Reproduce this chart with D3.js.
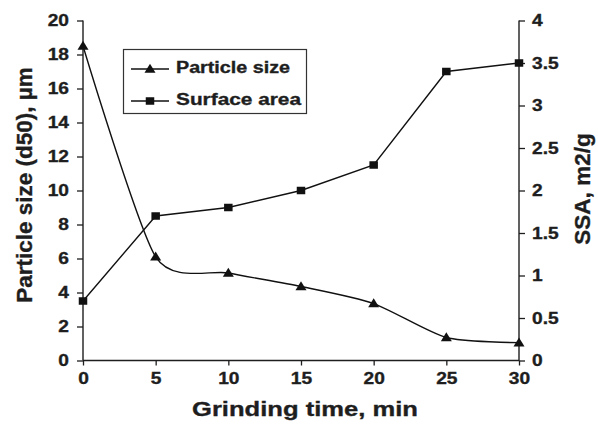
<!DOCTYPE html>
<html><head><meta charset="utf-8">
<script src="https://cdn.jsdelivr.net/npm/d3@7"></script>
<style>body{margin:0;background:#fff}svg{display:block}text{font-family:"Liberation Sans",Arial,sans-serif;font-weight:bold;fill:#1e1e1e;stroke:#1e1e1e;stroke-width:0.35px}</style>
</head><body><svg id="c" width="598" height="424"></svg>
<script>
const times = [0, 5, 10, 15, 20, 25, 30];
const particleSize = [18.5, 6.1, 5.15, 4.35, 3.35, 1.35, 1.05];
const surfaceArea = [0.7, 1.7, 1.8, 2.0, 2.3, 3.4, 3.5];
const xTicks = [0, 5, 10, 15, 20, 25, 30];
const leftTicks = [0, 2, 4, 6, 8, 10, 12, 14, 16, 18, 20];
const rightTicks = [0, 0.5, 1, 1.5, 2, 2.5, 3, 3.5, 4];
const seriesNames = ["Particle size", "Surface area"];

const svg = d3.select("#c");
const L = 83, R = 519, T = 20.5, B = 360.5;
const x = d3.scaleLinear().domain([0, 30]).range([L, R]);
const yL = d3.scaleLinear().domain([0, 20]).range([B, T]);
const yR = d3.scaleLinear().domain([0, 4]).range([B, T]);

function stretch(sel, k) {
  sel.each(function () {
    const w = this.getComputedTextLength();
    d3.select(this).attr("textLength", w * k).attr("lengthAdjust", "spacingAndGlyphs");
  });
}

const ax = svg.append("g").attr("transform", `translate(0,${B})`)
  .call(d3.axisBottom(x).tickValues(xTicks).tickSize(5).tickPadding(7).tickFormat(d3.format("d")));
const al = svg.append("g").attr("transform", `translate(${L},0)`)
  .call(d3.axisLeft(yL).tickValues(leftTicks).tickSize(6).tickPadding(8).tickFormat(d3.format("d")));
const ar = svg.append("g").attr("transform", `translate(${R},0)`)
  .call(d3.axisRight(yR).tickValues(rightTicks).tickSize(6).tickPadding(7).tickFormat(d => d));
[ax, al, ar].forEach(g => {
  g.select(".domain").attr("stroke", "#1e1e1e").attr("stroke-width", 1.4);
  g.selectAll(".tick line").attr("stroke", "#1e1e1e").attr("stroke-width", 1.3);
  g.selectAll("text").style("font-size", "16.5px").attr("fill", "#1e1e1e");
  stretch(g.selectAll("text"), 1.16);
});
ax.select(".domain").attr("d", `M${L},0H${R}`);
al.select(".domain").attr("d", `M0,${B}V${T}`);
ar.select(".domain").attr("d", `M0,${B}V${T}`);

// lines
const lineP = d3.line().x((d, i) => x(times[i])).y(d => yL(d)).curve(d3.curveCardinal.tension(0.3));
const lineS = d3.line().x((d, i) => x(times[i])).y(d => yR(d));
svg.append("path").attr("d", lineS(surfaceArea)).attr("fill", "none").attr("stroke", "#111").attr("stroke-width", 1.4);
svg.append("path").attr("d", lineP(particleSize)).attr("fill", "none").attr("stroke", "#111").attr("stroke-width", 1.4);

const triPath = "M0,-5.2L5.5,3.8L-5.5,3.8Z";
const sqW = 8.5, sqH = 7.5;
svg.append("g").selectAll("path").data(particleSize).join("path")
  .attr("d", triPath).attr("fill", "#111")
  .attr("transform", (d, i) => `translate(${x(times[i])},${yL(d)})`);
svg.append("g").selectAll("rect").data(surfaceArea).join("rect")
  .attr("width", sqW).attr("height", sqH).attr("fill", "#111")
  .attr("x", (d, i) => x(times[i]) - sqW / 2).attr("y", d => yR(d) - sqH / 2);

// legend
const lg = svg.append("g");
lg.append("rect").attr("x", 123.5).attr("y", 49.5).attr("width", 183).attr("height", 64)
  .attr("fill", "#fff").attr("stroke", "#333").attr("stroke-width", 1.2);
const legendLens = [114, 125];
seriesNames.forEach((n, i) => {
  const yy = 69 + i * 32;
  lg.append("line").attr("x1", 131).attr("x2", 169).attr("y1", yy).attr("y2", yy).attr("stroke", "#111").attr("stroke-width", 1.3);
  if (i === 0) lg.append("path").attr("d", triPath).attr("fill", "#111").attr("transform", `translate(150,${yy})`);
  else lg.append("rect").attr("x", 150 - sqW / 2).attr("y", yy - sqH / 2).attr("width", sqW).attr("height", sqH).attr("fill", "#111");
  lg.append("text").attr("x", 176).attr("y", yy + 3.5).style("font-size", "16.8px")
    .attr("textLength", legendLens[i]).attr("lengthAdjust", "spacingAndGlyphs").text(n);
});

// titles
svg.append("text").attr("x", 192).attr("y", 416).style("font-size", "21px")
  .attr("textLength", 226).attr("lengthAdjust", "spacingAndGlyphs").text("Grinding time, min");
svg.append("text").attr("transform", "translate(31.5,185) rotate(-90)").attr("text-anchor", "middle").style("font-size", "22.5px").text("Particle size (d50), µm");
svg.append("text").attr("transform", "translate(590,189) rotate(-90)").attr("text-anchor", "middle").style("font-size", "22.5px").text("SSA, m2/g");
</script></body></html>
